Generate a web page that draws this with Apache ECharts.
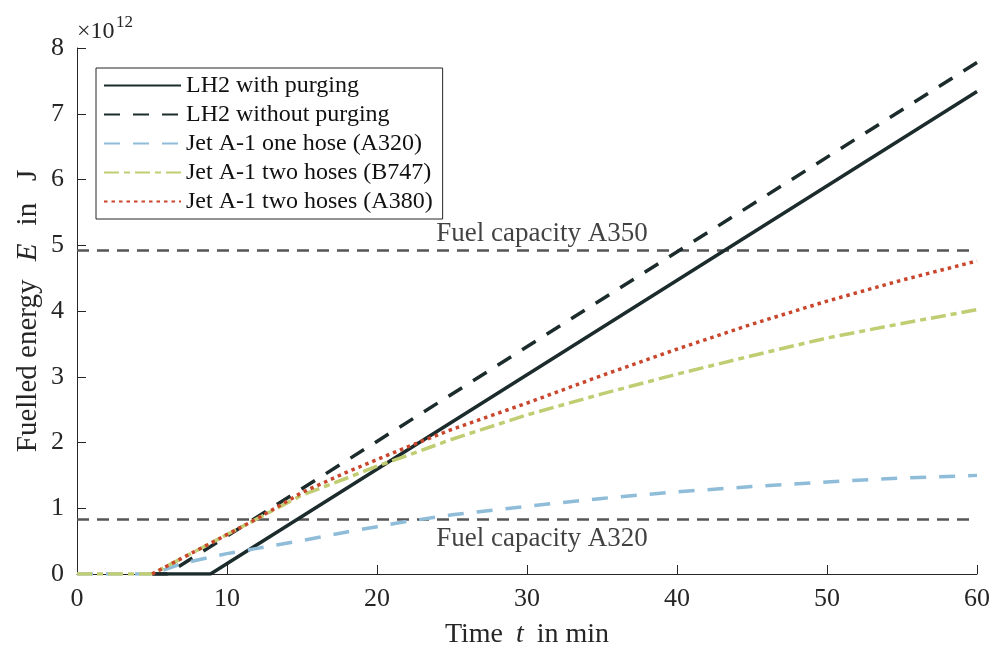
<!DOCTYPE html>
<html>
<head>
<meta charset="utf-8">
<script src="https://cdn.jsdelivr.net/npm/echarts@6/dist/echarts.min.js"></script>
<style>
html,body{margin:0;padding:0;background:#fff;}
#chart{width:992px;height:646px;}
</style>
</head>
<body>
<div id="chart"></div>
<script>
// ---- data (energy in units of 10^12 J, time in min) ----
var seriesNames = ['LH2 with purging', 'LH2 without purging', 'Jet A-1 one hose (A320)', 'Jet A-1 two hoses (B747)', 'Jet A-1 two hoses (A380)'];
var lh2WithTime = [5, 8.9, 60];
var lh2WithValues = [0, 0, 7.34];
var lh2WithoutTime = [5, 6, 60];
var lh2WithoutValues = [0, 0, 7.78];
var jetTime = [0, 5, 7, 10, 12, 15, 18, 20, 22, 25, 30, 35, 40, 45, 50, 55, 60];
var a320Values = [0, 0, 0.16, 0.31, 0.39, 0.51, 0.64, 0.72, 0.80, 0.90, 1.03, 1.15, 1.25, 1.33, 1.40, 1.46, 1.50];
var b747Values = [0, 0, 0.24, 0.60, 0.84, 1.20, 1.46, 1.64, 1.80, 2.05, 2.42, 2.74, 3.04, 3.32, 3.59, 3.81, 4.02];
var a380Values = [null, 0, 0.24, 0.60, 0.84, 1.24, 1.55, 1.74, 1.93, 2.20, 2.60, 3.02, 3.42, 3.80, 4.15, 4.47, 4.76];
var capTime = [0, 60];
var capA350 = 4.92;
var capA320 = 0.83;
var capLabelTime = 31;
var capLabels = ['Fuel capacity A350', 'Fuel capacity A320'];
var xTicks = [0, 10, 20, 30, 40, 50, 60];
var yTicks = [0, 1, 2, 3, 4, 5, 6, 7, 8];

function pairs(xs, ys) { return xs.map(function (x, i) { return [x, ys[i]]; }); }

var FONT = 'Liberation Serif';
var TXT = '#262626';
var dark = '#1c2b2b';

var chart = echarts.init(document.getElementById('chart'));
chart.setOption({
  animation: false,
  backgroundColor: '#ffffff',
  grid: { left: 77, right: 15, top: 48, bottom: 72, containLabel: false, outerBoundsMode: 'none' },
  xAxis: {
    type: 'value', min: xTicks[0], max: xTicks[xTicks.length - 1], interval: 10,
    name: 'Time {i|t} in min', nameLocation: 'middle', nameGap: 47,
    nameTextStyle: { fontFamily: FONT, fontSize: 28, color: TXT,
      rich: { i: { fontFamily: FONT, fontSize: 28, fontStyle: 'italic', color: TXT, padding: [0, 6, 0, 6] } } },
    axisLine: { lineStyle: { color: TXT, width: 1 } },
    axisTick: { inside: true, length: 9, lineStyle: { color: TXT } },
    axisLabel: { fontFamily: FONT, fontSize: 26, color: TXT, margin: 12 },
    splitLine: { show: false }
  },
  yAxis: {
    type: 'value', min: yTicks[0], max: yTicks[yTicks.length - 1], interval: 1,
    name: 'Fuelled energy {i|E} in   J', nameLocation: 'middle', nameGap: 34, nameMoveOverlap: false,
    nameTextStyle: { fontFamily: FONT, fontSize: 29, color: TXT,
      rich: { i: { fontFamily: FONT, fontSize: 29, fontStyle: 'italic', color: TXT, padding: [0, 11, 0, 11] } } },
    axisLine: { show: true, lineStyle: { color: TXT, width: 1 } },
    axisTick: { inside: true, length: 9, lineStyle: { color: TXT } },
    axisLabel: { fontFamily: FONT, fontSize: 26, color: TXT, margin: 13 },
    splitLine: { show: false }
  },
  legend: {
    data: seriesNames,
    orient: 'vertical', left: 96, top: 68,
    backgroundColor: '#ffffff', borderColor: TXT, borderWidth: 1, borderRadius: 0,
    padding: [5, 10, 5, 7],
    itemWidth: 77, itemHeight: 14, itemGap: 4,
    itemStyle: { opacity: 0 },
    textStyle: { fontFamily: FONT, fontSize: 24, color: '#111', lineHeight: 25 }
  },
  graphic: [
    { type: 'text', left: 77, top: 20, style: { text: '×10', font: '24px "Liberation Serif"', fill: TXT } },
    { type: 'text', left: 116, top: 14, style: { text: '12', font: '17px "Liberation Serif"', fill: TXT } }
  ],
  series: [
    { type: 'line', name: 'capA350', data: pairs(capTime, [capA350, capA350]), symbol: 'none', silent: true,
      lineStyle: { color: '#555', width: 2.5, type: [12, 8] } },
    { type: 'line', name: 'capA320', data: pairs(capTime, [capA320, capA320]), symbol: 'none', silent: true,
      lineStyle: { color: '#555', width: 2.5, type: [12, 8] } },
    { type: 'scatter', name: 'capLabels', symbolSize: 1, itemStyle: { color: 'rgba(0,0,0,0)' }, silent: true,
      data: [
        { value: [capLabelTime, capA350], label: { show: true, position: 'top', distance: 3, formatter: capLabels[0] } },
        { value: [capLabelTime, capA320], label: { show: true, position: 'bottom', distance: 5, formatter: capLabels[1] } }
      ],
      label: { fontFamily: FONT, fontSize: 27, color: '#111' } },
    { type: 'line', name: seriesNames[0], data: pairs(lh2WithTime, lh2WithValues), symbol: 'none',
      itemStyle: { color: dark }, lineStyle: { color: dark, width: 3.5 } },
    { type: 'line', name: seriesNames[1], data: pairs(lh2WithoutTime, lh2WithoutValues), symbol: 'none',
      itemStyle: { color: dark }, lineStyle: { color: dark, width: 3.5, type: [16, 13] } },
    { type: 'line', name: seriesNames[2], data: pairs(jetTime, a320Values), symbol: 'none',
      itemStyle: { color: '#8fbcd8' }, lineStyle: { color: '#8fbcd8', width: 3.5, type: [16, 13] } },
    { type: 'line', name: seriesNames[3], data: pairs(jetTime, b747Values), symbol: 'none',
      itemStyle: { color: '#c1cd72' }, lineStyle: { color: '#c1cd72', width: 3.5, type: [15, 5, 6, 5] } },
    { type: 'line', name: seriesNames[4], data: pairs(jetTime, a380Values), symbol: 'none',
      itemStyle: { color: '#c9452b' }, lineStyle: { color: '#c9452b', width: 3.5, type: [3.5, 4] } }
  ]
});
</script>
</body>
</html>
